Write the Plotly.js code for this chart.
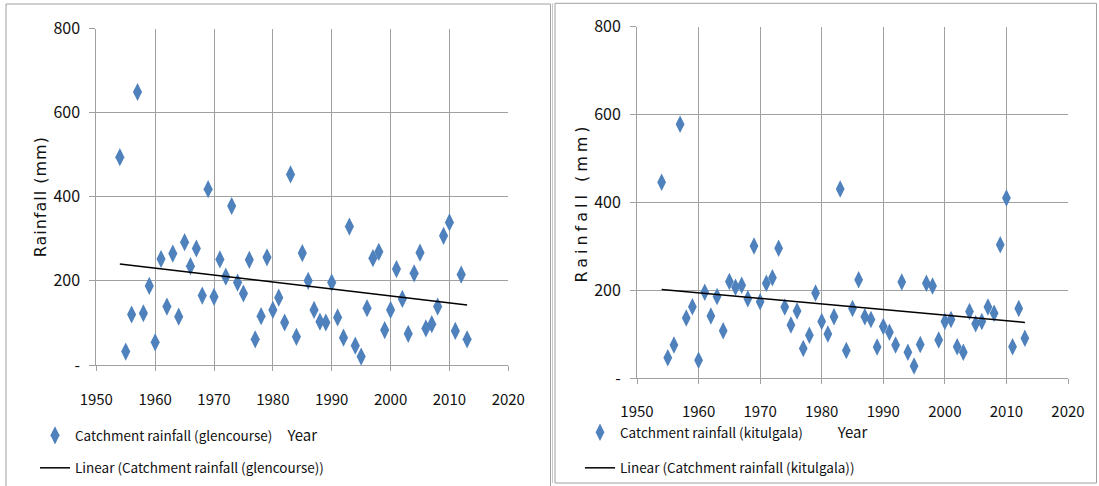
<!DOCTYPE html>
<html>
<head>
<meta charset="utf-8">
<script src="https://cdn.plot.ly/plotly-3.0.1.min.js"></script>
<style>
html,body{margin:0;padding:0;background:#fff;}
#chart{width:1099px;height:486px;}
.g-ytitle text{letter-spacing:1px;}
.g-y2title text{letter-spacing:4px;}
</style>
</head>
<body>
<div id="chart"></div>
<script>
const years = [1954,1955,1956,1957,1958,1959,1960,1961,1962,1963,1964,1965,1966,1967,1968,1969,
  1970,1971,1972,1973,1974,1975,1976,1977,1978,1979,1980,1981,1982,1983,1984,1985,1986,1987,1988,1989,
  1990,1991,1992,1993,1994,1995,1996,1997,1998,1999,2000,2001,2002,2003,2004,2005,2006,2007,2008,2009,
  2010,2011,2012,2013];
const glencourse = [494,32,120,649,123,188,54,252,139,265,115,292,235,277,165,418,
  162,251,210,378,196,170,250,61,116,256,131,160,101,453,67,266,200,131,103,101,
  196,113,65,329,46,20,135,254,269,83,131,228,157,74,218,267,87,97,139,307,
  339,81,215,61];
const kitulgala = [446,47,76,578,137,163,41,196,142,186,108,220,207,212,181,301,
  174,216,229,296,162,121,153,68,98,194,129,101,140,431,63,159,224,140,134,71,
  118,105,76,219,59,28,77,216,210,87,129,134,72,59,152,124,129,162,148,304,
  410,72,159,91];
const yTickVals = [0,200,400,600,800];
const yTickText = ['-','200','400','600','800'];
const xTickVals = [1950,1960,1970,1980,1990,2000,2010,2020];
const seriesNames = ['Catchment rainfall (glencourse)','Catchment rainfall (kitulgala)'];

function linfit(x, y){
  const n = x.length;
  let sx=0, sy=0, sxx=0, sxy=0;
  for(let i=0;i<n;i++){sx+=x[i];sy+=y[i];sxx+=x[i]*x[i];sxy+=x[i]*y[i];}
  const b = (n*sxy - sx*sy)/(n*sxx - sx*sx);
  const a = (sy - b*sx)/n;
  const xs = [Math.min(...x), Math.max(...x)];
  return {x: xs, y: xs.map(v => a + b*v)};
}

const W = 1099, H = 486;
const px = v => v/W, py = v => 1 - v/H;

const BLUE = '#4F81BD';
const GRID = '#a0a0a0';
const FONT = '"Noto Sans CJK JP", "Liberation Sans", Arial, sans-serif';
const TFONT = '"DejaVu Sans", sans-serif';

const fit1 = linfit(years, glencourse);
const fit2 = linfit(years, kitulgala);

const traces = [
  {x: years, y: glencourse, type:'scatter', mode:'markers', name: seriesNames[0],
   xaxis:'x', yaxis:'y', legend:'legend', legendgroup:'a',
   marker:{symbol:'diamond-tall', size:13, color:BLUE}},
  {x: fit1.x, y: fit1.y, type:'scatter', mode:'lines', name:'Linear (' + seriesNames[0] + ')',
   xaxis:'x', yaxis:'y', legend:'legend', legendgroup:'b',
   line:{color:'#000', width:1.5}},
  {x: years, y: kitulgala, type:'scatter', mode:'markers', name: seriesNames[1],
   xaxis:'x2', yaxis:'y2', legend:'legend2', legendgroup:'c',
   marker:{symbol:'diamond-tall', size:12.5, color:BLUE}},
  {x: fit2.x, y: fit2.y, type:'scatter', mode:'lines', name:'Linear (' + seriesNames[1] + ')',
   xaxis:'x2', yaxis:'y2', legend:'legend2', legendgroup:'d',
   line:{color:'#000', width:1.5}}
];

function xAxis(domain, anchor, standoff, titleStandoff){
  return {domain: domain, anchor: anchor, range:[1950,2020], tickvals: xTickVals,
    showgrid:true, gridcolor:GRID, gridwidth:1, showline:true, linecolor:GRID, linewidth:1,
    mirror:false, ticks:'outside', ticklen:5, tickcolor:GRID, zeroline:false,
    ticklabelstandoff: standoff,
    tickfont:{family:FONT, size:15, color:'#111'},
    title:{text:'Year', font:{family:FONT, size:15, color:'#111'}, standoff: titleStandoff},
    fixedrange:true};
}
function yAxis(domain, anchor, titleStandoff){
  return {domain: domain, anchor: anchor, range:[0,800], tickvals: yTickVals, ticktext: yTickText,
    showgrid:true, gridcolor:GRID, gridwidth:1, showline:true, linecolor:GRID, linewidth:1,
    ticks:'outside', ticklen:6, tickcolor:GRID, zeroline:false,
    ticklabelstandoff: 6,
    tickfont:{family:FONT, size:16, color:'#111'},
    title:{text:'Rainfall (mm)', font:{family:TFONT, size:16, color:'#111'}, standoff: titleStandoff},
    fixedrange:true};
}

const layout = {
  width: W, height: H,
  margin:{l:0, r:0, t:0, b:0},
  paper_bgcolor:'#fff', plot_bgcolor:'#fff',
  font:{family:FONT, color:'#111'},
  xaxis: xAxis([px(96.3), px(508.3)], 'y', 16, 22),
  yaxis: yAxis([py(365), py(28.5)], 'x', 2),
  xaxis2: xAxis([px(637), px(1068)], 'y2', 15, 1),
  yaxis2: yAxis([py(378.3), py(26.7)], 'x2', 2),
  legend:{x: px(35), xanchor:'left', y: py(420), yanchor:'top', orientation:'v',
    bgcolor:'rgba(0,0,0,0)', borderwidth:0, tracegroupgap:12, itemwidth:30,
    font:{family:FONT, size:13.5, color:'#111'}},
  legend2:{x: px(580), xanchor:'left', y: py(417), yanchor:'top', orientation:'v',
    bgcolor:'rgba(0,0,0,0)', borderwidth:0, tracegroupgap:15, itemwidth:30,
    font:{family:FONT, size:13.5, color:'#111'}},
  shapes:[
    {type:'rect', xref:'paper', yref:'paper', x0: px(6), x1: px(550.5), y0: py(490), y1: py(4),
     line:{color:GRID, width:1}, layer:'below'},
    {type:'rect', xref:'paper', yref:'paper', x0: px(555), x1: px(1096.5), y0: py(483), y1: py(3.3),
     line:{color:GRID, width:1}, layer:'below'},
    {type:'line', xref:'paper', yref:'paper', x0: px(552.5), x1: px(552.5), y0: py(483), y1: py(3.3),
     line:{color:'#c8c8c8', width:1}, layer:'below'}
  ],
  showlegend:true
};

Plotly.newPlot('chart', traces, layout, {displayModeBar:false, staticPlot:true});
</script>
</body>
</html>
